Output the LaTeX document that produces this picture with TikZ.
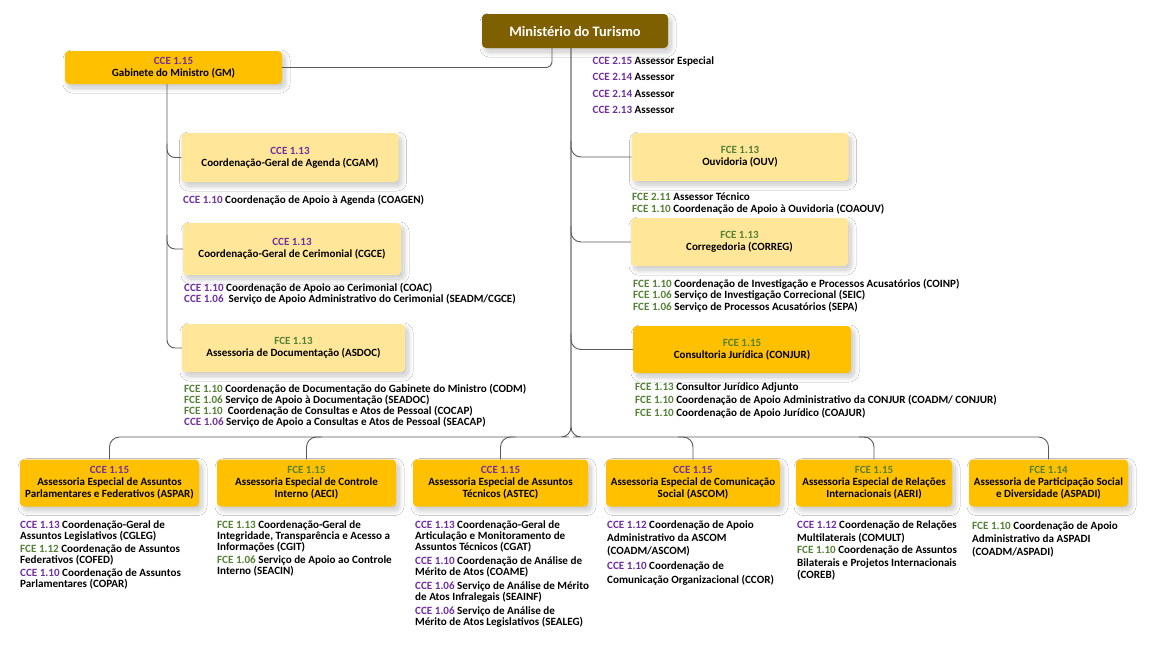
\documentclass[tikz,border=0pt]{standalone}
\usepackage{fontspec}
\setmainfont{Carlito}
\usetikzlibrary{calc,shadows.blur}
\definecolor{ccec}{HTML}{7030A0}
\definecolor{fcec}{HTML}{548235}
\definecolor{goldc}{HTML}{FFC000}
\definecolor{lightc}{HTML}{FFE699}
\definecolor{mtbrown}{HTML}{7F6000}
\definecolor{lnc}{HTML}{595959}
\newcommand\ccel[1]{{\color{ccec}CCE #1}}
\newcommand\fcel[1]{{\color{fcec}FCE #1}}
\newcommand\fst{\rule{0pt}{9pt}}
\newcommand\orgboxfont{\bfseries\fontsize{11}{12}\selectfont}
\newcommand\orgsubfont{\bfseries\fontsize{11.1}{11}\selectfont}
\newcommand\orgmtfont{\bfseries\fontsize{14.4}{16}\selectfont}
\begin{document}
\begin{tikzpicture}[x=1pt,y=-1pt,
  orgbox/.style={rectangle, rounded corners=4pt, inner sep=1pt, align=center, font=\orgboxfont,
    blur shadow={shadow xshift=3pt, shadow yshift=-4pt, shadow blur radius=5pt, shadow blur steps=12, shadow opacity=22}},
  goldbox/.style={orgbox, fill=goldc},
  lightbox/.style={orgbox, fill=lightc},
  mtbox/.style={orgbox, fill=mtbrown, text=white, font=\orgmtfont},
  sub/.style={anchor=north west, inner sep=0pt, align=left, font=\orgsubfont},
  conn/.style={draw=lnc, line width=0.9pt, rounded corners=10pt},
  bot/.style={goldbox, minimum width=#1, minimum height=47}
]
\useasboundingbox[fill=white] (0,0) rectangle (1150,646);

% top
\node[mtbox, minimum width=186, minimum height=34] (mt) at (575,31) {Ministério do Turismo};
\node[goldbox, minimum width=217, minimum height=33] (gm) at (173.5,67.5) {\ccel{1.15}\\Gabinete do Ministro (GM)};

% left column
\node[lightbox, minimum width=217, minimum height=49] (cgam) at (290,157.5) {\ccel{1.13}\\Coordenação-Geral de Agenda (CGAM)};
\node[sub] (cgamsub) at (183,194) {\fst\ccel{1.10} Coordenação de Apoio à Agenda (COAGEN)};
\node[lightbox, minimum width=218, minimum height=52] (cgce) at (292,249) {\ccel{1.13}\\Coordenação-Geral de Cerimonial (CGCE)};
\node[sub] (cgcesub) at (184,282) {\fst\ccel{1.10} Coordenação de Apoio ao Cerimonial (COAC)\\
 \ccel{1.06}\ \ Serviço de Apoio Administrativo do Cerimonial (SEADM/CGCE)};
\node[lightbox, minimum width=223, minimum height=48] (asdoc) at (293.5,348) {\fcel{1.13}\\Assessoria de Documentação (ASDOC)};
\node[sub] (asdocsub) at (184,383) {\fst\fcel{1.10} Coordenação de Documentação do Gabinete do Ministro (CODM)\\
\fcel{1.06} Serviço de Apoio à Documentação (SEADOC)\\
\fcel{1.10}\ \ Coordenação de Consultas e Atos de Pessoal (COCAP)\\
\ccel{1.06} Serviço de Apoio a Consultas e Atos de Pessoal (SEACAP)};

% right column
\node[sub] (assess) at (592.5,55) {\fst\ccel{2.15} Assessor Especial\\[5.5pt]
\ccel{2.14} Assessor\\[5.5pt]
\ccel{2.14} Assessor\\[5.5pt]
\ccel{2.13} Assessor};
\node[lightbox, minimum width=217, minimum height=48] (ouv) at (740,157) {\fcel{1.13}\\Ouvidoria (OUV)};
\node[sub] (ouvsub) at (632,191) {\fst\fcel{2.11} Assessor Técnico\\[1pt]
\fcel{1.10} Coordenação de Apoio à Ouvidoria (COAOUV)};
\node[lightbox, minimum width=217, minimum height=48] (correg) at (739.5,242) {\fcel{1.13}\\Corregedoria (CORREG)};
\node[sub] (corregsub) at (633,278) {\fst\fcel{1.10} Coordenação de Investigação e Processos Acusatórios (COINP)\\[0.7pt]
\fcel{1.06} Serviço de Investigação Correcional (SEIC)\\[0.7pt]
\fcel{1.06} Serviço de Processos Acusatórios (SEPA)};
\node[goldbox, minimum width=218, minimum height=47] (conjur) at (742,349.5) {\fcel{1.15}\\Consultoria Jurídica (CONJUR)};
\node[sub] (conjursub) at (635,381) {\fst\fcel{1.13} Consultor Jurídico Adjunto\\[2pt]
\fcel{1.10} Coordenação de Apoio Administrativo da CONJUR (COADM/ CONJUR)\\[2pt]
\fcel{1.10} Coordenação de Apoio Jurídico (COAJUR)};

% bottom row
\node[bot=179] (aspar) at (109.5,483) {\ccel{1.15}\\Assessoria Especial de Assuntos\\Parlamentares e Federativos (ASPAR)};
\node[bot=179] (aeci) at (306.5,483) {\fcel{1.15}\\Assessoria Especial de Controle\\Interno (AECI)};
\node[bot=175] (astec) at (500.5,483) {\ccel{1.15}\\Assessoria Especial de Assuntos\\Técnicos (ASTEC)};
\node[bot=174] (ascom) at (693,483) {\ccel{1.15}\\Assessoria Especial de Comunicação\\Social (ASCOM)};
\node[bot=156] (aeri) at (874,483) {\fcel{1.15}\\Assessoria Especial de Relações\\Internacionais (AERI)};
\node[bot=159] (aspadi) at (1048.5,483) {\fcel{1.14}\\Assessoria de Participação Social\\e Diversidade (ASPADI)};

\node[sub] (asparsub) at (20,519.5) {\fst\ccel{1.13} Coordenação-Geral de\\
Assuntos Legislativos (CGLEG)\\[1.5pt]
\fcel{1.12} Coordenação de Assuntos\\
Federativos (COFED)\\[2pt]
\ccel{1.10} Coordenação de Assuntos\\
Parlamentares (COPAR)};
\node[sub] (aecisub) at (217,519.5) {\fst\fcel{1.13} Coordenação-Geral de\\
Integridade, Transparência e Acesso a\\
Informações (CGIT)\\[1.7pt]
\fcel{1.06} Serviço de Apoio ao Controle\\
Interno (SEACIN)};
\node[sub] (astecsub) at (415,519) {\fst\ccel{1.13} Coordenação-Geral de\\
Articulação e Monitoramento de\\
Assuntos Técnicos (CGAT)\\[3pt]
\ccel{1.10} Coordenação de Análise de\\
Mérito de Atos (COAME)\\[3pt]
\ccel{1.06} Serviço de Análise de Mérito\\
de Atos Infralegais (SEAINF)\\[3pt]
\ccel{1.06} Serviço de Análise de\\
Mérito de Atos Legislativos (SEALEG)};
\node[sub] (ascomsub) at (607,519) {\fst\ccel{1.12} Coordenação de Apoio\\[2.3pt]
Administrativo da ASCOM\\[2.3pt]
(COADM/ASCOM)\\[4pt]
\ccel{1.10} Coordenação de\\[2.3pt]
Comunicação Organizacional (CCOR)};
\node[sub] (aerisub) at (797,519.5) {\fst\ccel{1.12} Coordenação de Relações\\[1.5pt]
Multilaterais (COMULT)\\[1.5pt]
\fcel{1.10} Coordenação de Assuntos\\[1.5pt]
Bilaterais e Projetos Internacionais\\[1.5pt]
(COREB)};
\node[sub] (aspadisub) at (972,520) {\fst\fcel{1.10} Coordenação de Apoio\\[2pt]
Administrativo da ASPADI\\[2pt]
(COADM/ASPADI)};

% connectors
\coordinate (tr) at ([xshift=-4pt]mt.south);
\coordinate (gc) at ([xshift=-6.5pt]gm.south);
\coordinate (hb) at (571,437);
\draw[conn, rounded corners=6pt] ([xshift=-23pt]mt.south) |- (gm.east);
\draw[conn, rounded corners=8pt] ($(gc |- cgam.west)+(0,-14)$) |- (cgam.west);
\draw[conn, rounded corners=8pt] ($(gc |- cgce.west)+(0,-14)$) |- (cgce.west);
\draw[conn, rounded corners=8pt] (gc) |- (asdoc.west);
\draw[conn] ($(tr |- ouv.west)+(0,-16)$) |- (ouv.west);
\draw[conn] ($(tr |- correg.west)+(0,-16)$) |- (correg.west);
\draw[conn] ($(tr |- conjur.west)+(0,-16)$) |- (conjur.west);
\draw[conn] (tr) |- ($(hb)+(-12,0)$) -| (aspar.north);
\draw[conn] (tr) |- ($(hb)+(12,0)$) -| (aspadi.north);
\draw[conn] ($(aeci.north |- hb)+(15,0)$) -| (aeci.north);
\draw[conn] ($(astec.north |- hb)+(15,0)$) -| (astec.north);
\draw[conn] ($(ascom.north |- hb)+(-15,0)$) -| (ascom.north);
\draw[conn] ($(aeri.north |- hb)+(-15,0)$) -| (aeri.north);
\end{tikzpicture}
\end{document}
